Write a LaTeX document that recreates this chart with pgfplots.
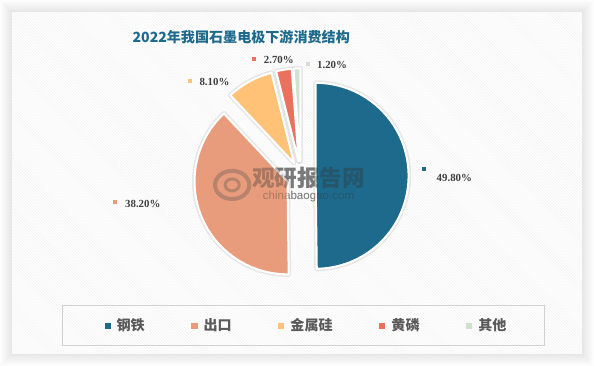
\documentclass[border=0pt]{standalone}
\usepackage{pgfplots}
\pgfplotsset{compat=1.18}
\usepackage{pgfplotstable}
\usepackage{fontspec}
\setmainfont{Liberation Serif}
\newfontfamily\cjk{Noto Sans CJK SC}
\newfontfamily\wmsans{Liberation Sans}
\usetikzlibrary{patterns}

\definecolor{cA}{HTML}{1D6A8C}
\definecolor{cB}{HTML}{E89C7B}
\definecolor{cC}{HTML}{FFC277}
\definecolor{cD}{HTML}{E9725F}
\definecolor{cE}{HTML}{D0E2CE}
\definecolor{lbl}{HTML}{404040}

% shares (percent)
\pgfplotstableread{
pct
49.8
38.2
8.1
2.7
1.2
}\piedata

\newcommand\getpct[2]{\pgfplotstablegetelem{#1}{pct}\of\piedata\pgfmathsetmacro#2{\pgfplotsretval}}

% #1 start pct, #2 end pct, #3 colour, #4 mode (0 halo, 1 fill)
\newcommand\slice[4]{%
  \pgfmathsetmacro\ta{#1*3.6}%
  \pgfmathsetmacro\tb{#2*3.6}%
  \pgfmathsetmacro\tm{(\ta+\tb)/2}%
  \pgfmathsetmacro\cx{299.5+14.5*sin(\tm)}%
  \pgfmathsetmacro\cy{190+14.5*cos(\tm)}%
  \ifnum#4=0
  \edef\tmp{\noexpand\addplot[forget plot, draw=black, draw opacity=0.08, line width=5pt, line join=round, fill=none, domain=\ta:\tb, samples=90] ({\cx+92.5*sin(x)},{\cy+92.5*cos(x)}) -- (axis cs:\cx,\cy) -- cycle;}%
  \else
  \edef\tmp{\noexpand\addplot[forget plot, fill=#3, draw=white, line width=2pt, line join=round, domain=\ta:\tb, samples=90] ({\cx+92.5*sin(x)},{\cy+92.5*cos(x)}) -- (axis cs:\cx,\cy) -- cycle;}%
  \fi
  \tmp}

\begin{document}
\begin{tikzpicture}[x=1pt,y=1pt]
% outer shadow and panel
\foreach \k in {1,...,12}
  \fill[black, opacity=0.007] ({12-\k},{13-\k}) rectangle ({579+\k},{353+\k});
\fill[white] (12,13) rectangle (579,353);
\fill[pattern=north west lines, pattern color=black!6] (12,13) rectangle (579,353);
\draw[black!18, line width=0.8pt] (62,21) rectangle (542,61);

\getpct{0}\pA \getpct{1}\pB \getpct{2}\pC \getpct{3}\pD \getpct{4}\pE
\pgfmathsetmacro\sB{\pA}
\pgfmathsetmacro\sC{\sB+\pB}
\pgfmathsetmacro\sD{\sC+\pC}
\pgfmathsetmacro\sE{\sD+\pD}
\pgfmathsetmacro\sF{\sE+\pE}

\begin{axis}[
  at={(0,0)}, anchor=south west,
  scale only axis, width=594pt, height=366pt,
  xmin=0, xmax=594, ymin=0, ymax=366,
  hide axis, clip=false,
  legend columns=5,
  legend image code/.code={\fill[#1, draw=none] (0pt,-3pt) rectangle (6pt,3pt);},
  legend style={draw=none, fill=none, at={(axis cs:305,41)}, anchor=center,
    font=\cjk\bfseries\fontsize{14}{14}\selectfont, text=black!65,
    /tikz/every odd column/.append style={column sep=4pt},
    /tikz/every even column/.append style={column sep=44.5pt}},
]
% watermark
\node[font=\cjk\bfseries\fontsize{22.5}{23}\selectfont, text=black!80, opacity=0.45] at (axis cs:307,188) {观研报告网};
\node[font=\wmsans\fontsize{11.5}{12}\selectfont, text=black!80, opacity=0.45] at (axis cs:307,169) {chinabaogao.com};

\slice{0}{\sB}{cA}{0}
\slice{\sB}{\sC}{cB}{0}
\slice{\sC}{\sD}{cC}{0}
\slice{\sD}{\sE}{cD}{0}
\slice{\sE}{\sF}{cE}{0}
\slice{0}{\sB}{cA}{1}
\slice{\sB}{\sC}{cB}{1}
\slice{\sC}{\sD}{cC}{1}
\slice{\sD}{\sE}{cD}{1}
\slice{\sE}{\sF}{cE}{1}

% watermark logo (over pie, faint)
\draw[black!70, opacity=0.3, line width=4pt] (axis cs:231,181) ellipse [x radius=17pt, y radius=14pt];
\draw[black!70, opacity=0.3, line width=3pt] (axis cs:231,181) ellipse [x radius=7pt, y radius=6pt];
\node[font=\cjk\bfseries\fontsize{22.5}{23}\selectfont, text=black!80, opacity=0.35] at (axis cs:307,188) {观研报告网};
\node[font=\wmsans\fontsize{11.5}{12}\selectfont, text=black!80, opacity=0.35] at (axis cs:307,169) {chinabaogao.com};

% data label markers
\addplot[forget plot, only marks, mark=square*, mark size=1.5pt, color=cA] coordinates {(422,197)};
\addplot[forget plot, only marks, mark=square*, mark size=1.5pt, color=cB] coordinates {(114,164)};
\addplot[forget plot, only marks, mark=square*, mark size=1.5pt, color=cC] coordinates {(189,285)};
\addplot[forget plot, only marks, mark=square*, mark size=1.5pt, color=cD] coordinates {(252,307)};
\addplot[forget plot, only marks, mark=square*, mark size=1.5pt, color=cE] coordinates {(306,302)};

\node[anchor=west, font=\bfseries\fontsize{10.8}{11}\selectfont, text=lbl] at (axis cs:431,188) {49.80\%};
\node[anchor=west, font=\bfseries\fontsize{10.8}{11}\selectfont, text=lbl] at (axis cs:121,162) {38.20\%};
\node[anchor=west, font=\bfseries\fontsize{10.8}{11}\selectfont, text=lbl] at (axis cs:195,283) {8.10\%};
\node[anchor=west, font=\bfseries\fontsize{10.8}{11}\selectfont, text=lbl] at (axis cs:259,305) {2.70\%};
\node[anchor=west, font=\bfseries\fontsize{10.8}{11}\selectfont, text=lbl] at (axis cs:312,300) {1.20\%};

% title
\node[font=\cjk\bfseries\fontsize{14}{14}\selectfont, text=cA] at (axis cs:240,328) {2022年我国石墨电极下游消费结构};

% legend
\addlegendimage{fill=cA}\addlegendentry{钢铁}
\addlegendimage{fill=cB}\addlegendentry{出口}
\addlegendimage{fill=cC}\addlegendentry{金属硅}
\addlegendimage{fill=cD}\addlegendentry{黄磷}
\addlegendimage{fill=cE}\addlegendentry{其他}
\end{axis}
\end{tikzpicture}
\end{document}
